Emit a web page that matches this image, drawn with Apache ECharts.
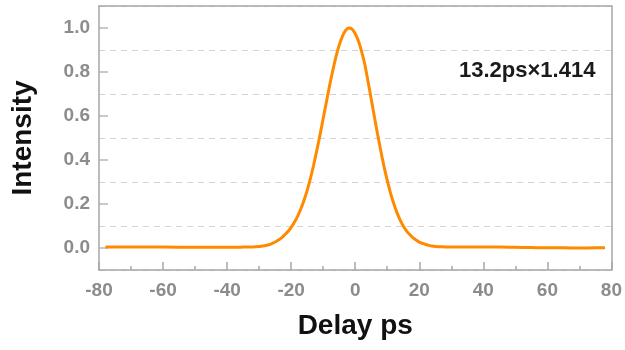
<!DOCTYPE html>
<html>
<head>
<meta charset="utf-8">
<script src="https://cdn.jsdelivr.net/npm/echarts@6/dist/echarts.min.js"></script>
<style>html,body{margin:0;padding:0;background:#fff;}#c{width:625px;height:350px;}</style>
</head>
<body>
<div id="c"></div>
<script>
const delay = [-78,-70,-60,-50,-40,-35,-32,
  -30,-29,-28,-27,-26,-25,-24,-23,-22,-21,-20,-19,-18,-17,-16,-15,-14,-13,-12,-11,-10,-9,-8,-7,-6,-5,-4,-3,-2,-1,
  0,1,2,3,4,5,6,7,8,9,10,11,12,13,14,15,16,17,18,19,20,21,22,23,24,
  26,28,30,35,40,45,50,55,60,65,70,75,78];
const intensity = [0.005,0.005,0.004,0.003,0.003,0.004,0.005,
  0.007,0.009,0.011,0.015,0.020,0.027,0.036,0.046,0.060,0.075,0.094,0.117,0.144,0.177,0.216,0.262,0.315,0.376,0.443,0.514,0.589,0.664,0.738,0.807,0.870,0.922,0.962,0.989,1.000,0.995,
  0.974,0.941,0.893,0.834,0.757,0.677,0.595,0.516,0.441,0.370,0.307,0.251,0.203,0.162,0.128,0.100,0.078,0.061,0.047,0.036,0.027,0.021,0.016,0.012,0.009,
  0.006,0.005,0.004,0.004,0.004,0.004,0.003,0.002,0.001,0.001,0.000,0.001,0.001];
const yLabels = [0.0,0.2,0.4,0.6,0.8,1.0];
const xMin = -80, xMax = 80;
const annotation = '13.2ps×1.414';
const xTitle = 'Delay ps';
const yTitle = 'Intensity';

const FONT = '"Liberation Sans", Arial, sans-serif';
const GRAY = '#8c8c8c';
const AXIS = '#a6a6a6';
const chart = echarts.init(document.getElementById('c'), null, {renderer: 'canvas'});
const pts = delay.map((d, i) => [d, intensity[i]]);
const yTickPts = yLabels.map(v => [xMin, v]);
function bareLine() { return {show: true, onZero: false, lineStyle: {color: AXIS, width: 1.5}}; }

chart.setOption({
  animation: false,
  backgroundColor: '#fff',
  grid: {left: 99, right: 13, top: 6, bottom: 80, show: false, containLabel: false},
  graphic: [{
    type: 'text', left: 459, top: 60,
    style: {text: annotation, font: 'bold 22px ' + FONT, fill: '#1a1a1a'}
  }],
  xAxis: [{
    type: 'value', min: xMin, max: xMax, interval: 20, position: 'bottom',
    name: xTitle, nameLocation: 'middle', nameGap: 42,
    nameTextStyle: {fontFamily: FONT, fontWeight: 'bold', fontSize: 28, color: '#111'},
    axisLine: bareLine(),
    axisTick: {show: true, inside: true, length: 8, lineStyle: {color: AXIS, width: 1.5}},
    minorTick: {show: true, splitNumber: 2, length: 4, lineStyle: {color: AXIS, width: 1.5}},
    axisLabel: {fontFamily: FONT, fontWeight: 'bold', fontSize: 19, color: GRAY, margin: 11},
    splitLine: {show: false}
  }, {
    type: 'value', min: xMin, max: xMax, interval: 20, position: 'top',
    axisLine: bareLine(), axisTick: {show: false}, axisLabel: {show: false}, splitLine: {show: false}
  }],
  yAxis: [{
    type: 'value', min: -0.1, max: 1.1, interval: 0.1, position: 'left',
    name: yTitle, nameLocation: 'middle', nameGap: 62,
    nameTextStyle: {fontFamily: FONT, fontWeight: 'bold', fontSize: 28, color: '#111'},
    axisLine: bareLine(),
    axisTick: {show: false},
    axisLabel: {
      fontFamily: FONT, fontWeight: 'bold', fontSize: 19, color: GRAY, margin: 9,
      formatter: function (v) {
        const hit = yLabels.find(l => Math.abs(l - v) < 1e-6);
        return hit === undefined ? '' : hit.toFixed(1);
      }
    },
    splitLine: {show: false}
  }, {
    type: 'value', min: -0.1, max: 1.1, interval: 0.2, position: 'left',
    axisLine: {show: false, onZero: false},
    axisTick: {show: false},
    axisLabel: {show: false},
    splitLine: {show: true, lineStyle: {color: '#d4d4d4', type: [6, 5], width: 1.2}}
  }, {
    type: 'value', min: -0.1, max: 1.1, interval: 0.1, position: 'right',
    axisLine: bareLine(), axisTick: {show: false}, axisLabel: {show: false}, splitLine: {show: false}
  }],
  series: [{
    type: 'line', data: pts, xAxisIndex: 0, yAxisIndex: 0,
    showSymbol: false, smooth: 0.3,
    lineStyle: {color: '#ff8a00', width: 3},
    z: 5
  }, {
    type: 'scatter', data: yTickPts, xAxisIndex: 0, yAxisIndex: 0,
    symbol: 'rect', symbolSize: [9, 1.5], symbolOffset: [4.5, 0],
    itemStyle: {color: AXIS}, silent: true, clip: false, z: 3
  }]
});
</script>
</body>
</html>
